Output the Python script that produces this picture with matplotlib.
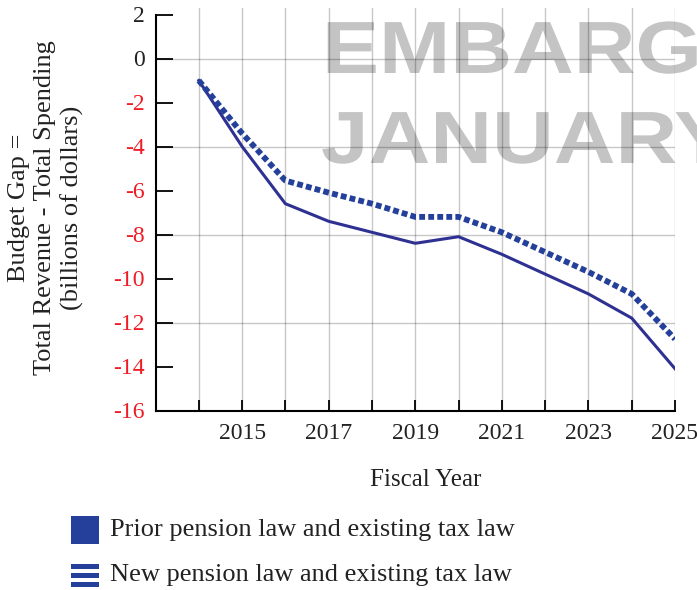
import matplotlib
matplotlib.use("Agg")
import matplotlib.pyplot as plt
from matplotlib.patches import Rectangle, PathPatch
from matplotlib.textpath import TextPath
from matplotlib.font_manager import FontProperties
from matplotlib.transforms import Affine2D

years = [2014, 2015, 2016, 2017, 2018, 2019, 2020, 2021, 2022, 2023, 2024, 2025]
prior_law = [-1.0, -4.0, -6.6, -7.4, -7.9, -8.4, -8.1, -8.9, -9.8, -10.7, -11.8, -14.1]
new_law = [-1.0, -3.4, -5.55, -6.1, -6.6, -7.2, -7.2, -7.9, -8.8, -9.7, -10.7, -12.75]
y_ticks = [2, 0, -2, -4, -6, -8, -10, -12, -14, -16]
y_grid = [0, -4, -8, -12]
x_labels = ["", "2015", "", "2017", "", "2019", "", "2021", "", "2023", "", "2025"]
legend_labels = ["Prior pension law and existing tax law", "New pension law and existing tax law"]
watermark = ["EMBARGO", "JANUARY"]

W, H = 697, 590
fig = plt.figure(figsize=(W / 100, H / 100), dpi=100)
serif = ["Liberation Serif", "DejaVu Serif"]

def px(x, y):
    return x / W, 1 - y / H

# watermark (stretched bold sans)
wfp = FontProperties(family="Liberation Sans", weight="bold")
for word, (x0, yb) in zip(watermark, [(322, 73), (321, 163)]):
    tp = TextPath((0, 0), word, size=1, prop=wfp)
    tr = Affine2D().scale(85.5, 74).translate(x0, H - yb)
    fig.add_artist(PathPatch(tp, transform=tr, color="#c4c4c4", lw=0, zorder=0))

left, right, top, bottom = 155.5, 675, 7.9, 410.5
ax = fig.add_axes([left / W, 1 - bottom / H, (right - left) / W, (bottom - top) / H])
ax.set_xlim(2013, 2025)
ax.set_ylim(-16, 2.3)
ax.set_facecolor("none")
ax.set_zorder(2)

# grid
for yy in y_grid:
    ax.axhline(yy, color="black", alpha=0.22, lw=1.0, zorder=1)
ax.set_xticks(years)
ax.xaxis.grid(True, color="black", alpha=0.22, lw=1.0)
ax.set_axisbelow(True)

ax.plot(years, prior_law, color="#2e3192", lw=2.2, zorder=3, solid_joinstyle="miter")
ax.plot(years, new_law, color="#25409a", lw=4.2, zorder=3, linestyle=(0, (1.0, 0.55)),
        dash_capstyle="butt")

for s in ["top", "right"]:
    ax.spines[s].set_visible(False)
ax.spines["left"].set_bounds(-16, 2)
ax.spines["left"].set_linewidth(1.5)
ax.spines["bottom"].set_linewidth(1.5)

ax.set_xticklabels(x_labels, family=serif, fontsize=17, color="#222222")
ax.tick_params(axis="x", direction="in", length=8, width=1.3, pad=9)
ax.set_yticks(y_ticks)
ax.set_yticklabels([str(v) for v in y_ticks], family=serif, fontsize=17)
for lbl, v in zip(ax.get_yticklabels(), y_ticks):
    lbl.set_color("#222222" if v >= 0 else "#ee1c25")
ax.tick_params(axis="y", direction="in", length=12, width=1.3, pad=8)

fig.text(*px(426, 480), "Fiscal Year", family=serif, fontsize=18, color="#222222",
         ha="center", va="center")
fig.text(*px(46, 208), "Budget Gap =\nTotal Revenue - Total Spending\n(billions of dollars)",
         family=serif, fontsize=19, color="#222222", rotation=90, ha="center", va="center",
         multialignment="center", linespacing=1.22)

# legend
fig.add_artist(Rectangle(px(71, 544), 28 / W, 28 / H, transform=fig.transFigure,
                         color="#25409a", lw=0))
for y0 in [564, 573, 582]:
    fig.add_artist(Rectangle(px(71, y0 + 5), 28 / W, 5 / H, transform=fig.transFigure,
                             color="#25409a", lw=0))
fig.text(*px(110, 530), legend_labels[0], family=serif, fontsize=19, color="#222222",
         ha="left", va="center")
fig.text(*px(110, 575), legend_labels[1], family=serif, fontsize=19, color="#222222",
         ha="left", va="center")

fig.savefig("out.png", dpi=100)
